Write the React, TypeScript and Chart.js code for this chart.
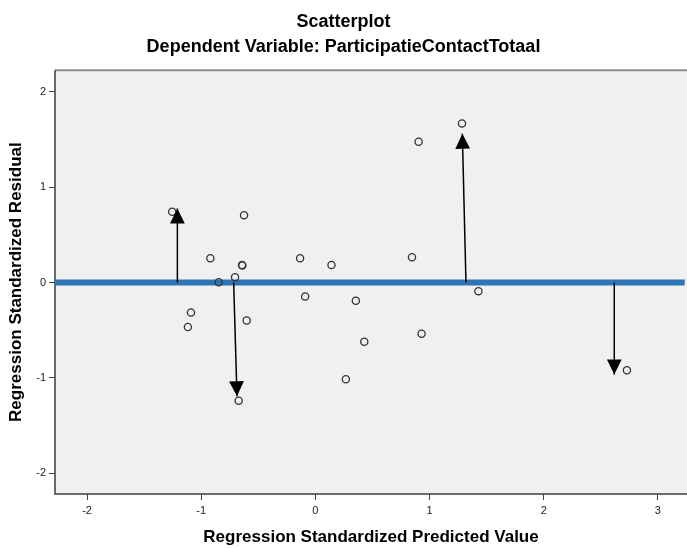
import React, { useEffect, useRef } from 'react';
import { Chart, registerables } from 'chart.js';

Chart.register(...registerables);

// Scatter points (standardized predicted value, standardized residual)
const pointX = [-1.254, -0.625, -0.920, -0.643, -0.640, -0.134, 0.141, 0.846, -0.847, -0.704, -0.090, 0.354, -1.090, -1.117, -0.602, 0.428, 0.930, 0.267, -0.672, 1.284, 0.904, 1.428, 2.729];
const pointY = [0.742, 0.707, 0.255, 0.185, 0.180, 0.255, 0.185, 0.265, 0.004, 0.056, -0.146, -0.191, -0.313, -0.466, -0.397, -0.620, -0.536, -1.013, -1.239, 1.669, 1.477, -0.090, -0.920];

// Arrows from the zero line towards selected residuals
const arrowFromX = [-1.209, -0.716, 1.319, 2.618];
const arrowFromY = [0, 0, 0, 0];
const arrowToX = [-1.209, -0.687, 1.287, 2.618];
const arrowToY = [0.777, -1.191, 1.561, -0.964];

// Horizontal reference line at residual 0
const refLineX = [-2.281, 3.235];
const refLineY = [0, 0];

// Axes
const xTicks = [-2, -1, 0, 1, 2, 3];
const yTicks = [-2, -1, 0, 1, 2];
const xRange = [-2.281, 3.255];
const yRange = [-2.217, 2.227];

const titleText = 'Scatterplot';
const subtitleText = 'Dependent Variable: ParticipatieContactTotaal';
const xTitle = 'Regression Standardized Predicted Value';
const yTitle = 'Regression Standardized Residual';

const FONT = "'Liberation Sans', Arial, Helvetica, sans-serif";

const framePlugin = {
  id: 'frame',
  beforeDraw(chart: any) {
    const { ctx, chartArea: a } = chart;
    ctx.save();
    ctx.fillStyle = '#f0f0f0';
    ctx.fillRect(a.left, a.top, a.right - a.left, a.bottom - a.top);
    ctx.restore();
  },
  beforeDatasetsDraw(chart: any) {
    const { ctx, chartArea: a } = chart;
    ctx.save();
    ctx.strokeStyle = '#8a8a8a';
    ctx.lineWidth = 2;
    ctx.beginPath();
    ctx.moveTo(a.left, a.top);
    ctx.lineTo(a.right, a.top);
    ctx.stroke();
    ctx.strokeStyle = '#3c3c3c';
    ctx.lineWidth = 1.5;
    ctx.beginPath();
    ctx.moveTo(a.left, a.top);
    ctx.lineTo(a.left, a.bottom);
    ctx.lineTo(a.right, a.bottom);
    ctx.stroke();
    ctx.restore();
  },
};

const arrowHeadPlugin = {
  id: 'arrowHeads',
  afterDatasetsDraw(chart: any) {
    const { ctx } = chart;
    chart.data.datasets.forEach((ds: any, i: number) => {
      if (!ds.isArrow) return;
      const meta = chart.getDatasetMeta(i);
      const p0 = meta.data[0];
      const p1 = meta.data[1];
      const dx = p1.x - p0.x;
      const dy = p1.y - p0.y;
      const len = Math.sqrt(dx * dx + dy * dy) || 1;
      const ux = dx / len;
      const uy = dy / len;
      const headLen = 15;
      const halfW = 7.4;
      const bx = p1.x - ux * headLen;
      const by = p1.y - uy * headLen;
      ctx.save();
      ctx.fillStyle = '#000';
      ctx.beginPath();
      ctx.moveTo(p1.x, p1.y);
      ctx.lineTo(bx - uy * halfW, by + ux * halfW);
      ctx.lineTo(bx + uy * halfW, by - ux * halfW);
      ctx.closePath();
      ctx.fill();
      ctx.restore();
    });
  },
};

export default function App() {
  const canvasRef = useRef<HTMLCanvasElement | null>(null);

  useEffect(() => {
    document.body.style.margin = '0';
    const canvas = canvasRef.current;
    if (!canvas) return;

    const points = pointX.map((x, i) => ({ x, y: pointY[i] }));
    const arrows = arrowFromX.map((x, i) => ({
      type: 'scatter' as const,
      isArrow: true,
      data: [
        { x, y: arrowFromY[i] },
        { x: arrowToX[i], y: arrowToY[i] },
      ],
      showLine: true,
      borderColor: '#000',
      borderWidth: 1.5,
      pointRadius: 0,
      order: 1,
    }));

    const chart = new Chart(canvas, {
      type: 'scatter',
      data: {
        datasets: [
          {
            data: points,
            pointRadius: 3.6,
            pointBorderWidth: 1.3,
            pointBorderColor: '#333333',
            pointBackgroundColor: 'rgba(0,0,0,0)',
            order: 0,
          } as any,
          ...(arrows as any[]),
          {
            data: refLineX.map((x, i) => ({ x, y: refLineY[i] })),
            showLine: true,
            borderColor: '#2e75b6',
            borderWidth: 6,
            borderCapStyle: 'butt',
            pointRadius: 0,
            order: 2,
          } as any,
        ],
      },
      options: {
        responsive: false,
        animation: false,
        events: [],
        layout: { padding: 0, autoPadding: false },
        plugins: {
          legend: { display: false },
          tooltip: { enabled: false },
          title: {
            display: true,
            text: titleText,
            color: '#000',
            font: { family: FONT, size: 18, weight: 'bold' },
            padding: { top: 11, bottom: 3.5 },
          },
          subtitle: {
            display: true,
            text: subtitleText,
            color: '#000',
            font: { family: FONT, size: 18, weight: 'bold' },
            padding: { top: 0, bottom: 12.5 },
          },
        },
        scales: {
          x: {
            type: 'linear',
            min: xRange[0],
            max: xRange[1],
            afterBuildTicks: (scale: any) => {
              scale.ticks = xTicks.map((v) => ({ value: v }));
            },
            afterFit: (scale: any) => {
              scale.height = 54;
            },
            border: { display: false },
            grid: {
              drawOnChartArea: false,
              drawTicks: true,
              tickLength: 6,
              color: '#444',
              lineWidth: 1,
            },
            ticks: {
              color: '#222',
              font: { family: FONT, size: 11 },
              padding: 4,
              maxRotation: 0,
              includeBounds: false,
              callback: (v: any) => String(v),
            },
            title: {
              display: true,
              text: xTitle,
              color: '#000',
              font: { family: FONT, size: 17, weight: 'bold' },
              padding: { top: 0, bottom: 0 },
            },
          },
          y: {
            type: 'linear',
            min: yRange[0],
            max: yRange[1],
            afterBuildTicks: (scale: any) => {
              scale.ticks = yTicks.map((v) => ({ value: v }));
            },
            afterFit: (scale: any) => {
              scale.width = 55;
            },
            border: { display: false },
            grid: {
              drawOnChartArea: false,
              drawTicks: true,
              tickLength: 6,
              color: '#444',
              lineWidth: 1,
            },
            ticks: {
              color: '#222',
              font: { family: FONT, size: 11 },
              padding: 3,
              includeBounds: false,
              callback: (v: any) => String(v),
            },
            title: {
              display: true,
              text: yTitle,
              color: '#000',
              font: { family: FONT, size: 17, weight: 'bold' },
              padding: { top: 6, bottom: 0 },
            },
          },
        },
      } as any,
      plugins: [framePlugin, arrowHeadPlugin],
    });

    return () => {
      chart.destroy();
    };
  }, []);

  return (
    <div style={{ width: 687, height: 548 }}>
      <canvas ref={canvasRef} width={687} height={548} style={{ display: 'block' }} />
    </div>
  );
}
